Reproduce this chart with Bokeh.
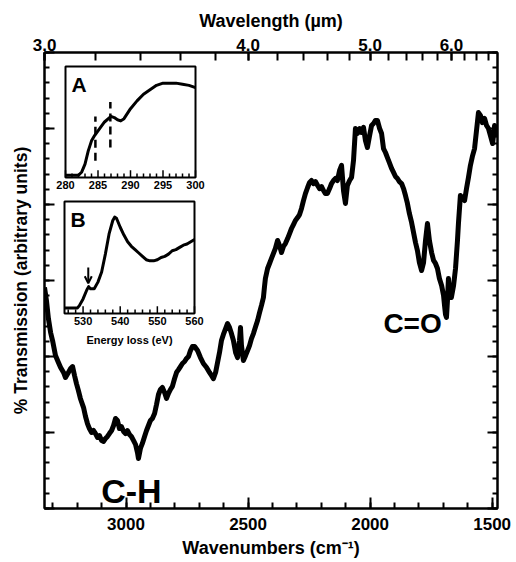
from bokeh.plotting import figure
from bokeh.models import Range1d, LinearAxis, FixedTicker, CustomJSTickFormatter, Arrow, OpenHead
from bokeh.core.properties import value
from bokeh.embed import file_html
from bokeh.resources import INLINE

# ---------------- data ----------------
wavenumber = [3334, 3326, 3318, 3309, 3301, 3289, 3277, 3268, 3256, 3248, 3236, 3227, 3219, 3211, 3203,
              3195, 3187, 3174, 3166, 3158, 3150, 3141, 3133, 3125, 3117, 3109, 3100, 3092, 3084, 3076,
              3068, 3059, 3051, 3043, 3035, 3027, 3019, 3010, 3002, 2994, 2986, 2978, 2969, 2961, 2953,
              2949, 2941, 2933, 2924, 2916, 2908, 2900, 2892, 2883, 2875, 2867, 2859, 2851, 2842, 2834,
              2826, 2818, 2810, 2801, 2793, 2785, 2777, 2769, 2760, 2752, 2744, 2736, 2728, 2719, 2707,
              2695, 2683, 2670, 2658, 2650, 2642, 2633, 2625, 2617, 2609, 2601, 2592, 2584, 2576, 2568,
              2560, 2551, 2543, 2535, 2531, 2527, 2519, 2510, 2502, 2494, 2486, 2478, 2469, 2461, 2453,
              2445, 2437, 2433, 2429, 2420, 2412, 2404, 2396, 2388, 2379, 2371, 2363, 2355, 2347, 2338,
              2330, 2322, 2314, 2306, 2297, 2289, 2281, 2273, 2265, 2256, 2248, 2240, 2232, 2224, 2215,
              2207, 2199, 2191, 2183, 2175, 2166, 2158, 2150, 2142, 2134, 2125, 2117, 2109, 2101, 2093,
              2084, 2076, 2068, 2060, 2052, 2043, 2035, 2027, 2019, 2011, 2002, 1994, 1986, 1978, 1970,
              1961, 1953, 1945, 1937, 1929, 1921, 1912, 1904, 1896, 1888, 1880, 1871, 1863, 1855, 1847,
              1839, 1830, 1822, 1814, 1806, 1798, 1789, 1781, 1773, 1765, 1757, 1748, 1740, 1732, 1724,
              1716, 1707, 1699, 1695, 1691, 1687, 1683, 1679, 1675, 1667, 1658, 1650, 1642, 1638, 1630,
              1621, 1613, 1605, 1597, 1589, 1580, 1572, 1564, 1556, 1548, 1540, 1531, 1523, 1515, 1507,
              1498, 1490, 1482, 1478]
transmission = [14.54, 13.68, 12.5, 11.58, 11.05, 10.07, 9.61, 9.28, 8.95, 8.62, 8.95, 9.21, 9.34, 8.75, 8.22,
                7.76, 7.24, 6.64, 6.05, 5.59, 5.26, 5.0, 5.13, 4.93, 4.67, 4.80, 4.47, 4.41, 4.61, 4.74,
                4.93, 5.13, 5.46, 5.92, 5.79, 5.26, 5.39, 5.07, 4.93, 5.13, 4.87, 4.74, 4.47, 4.21, 3.68,
                3.29, 3.95, 4.28, 4.74, 5.13, 5.46, 5.79, 5.92, 6.25, 6.84, 7.5, 7.83, 7.96, 7.63, 7.24,
                7.57, 7.83, 8.03, 8.55, 8.95, 9.14, 9.34, 9.54, 9.67, 9.87, 10.0, 10.39, 10.66, 10.66, 10.39,
                9.93, 9.54, 9.28, 8.95, 8.75, 8.55, 8.95, 9.61, 10.26, 11.05, 11.45, 11.84, 12.17, 11.91, 11.51,
                11.05, 10.26, 9.93, 11.05, 11.91, 10.72, 9.74, 10.07, 10.39, 10.72, 11.18, 11.51, 11.97, 12.37, 12.89,
                13.36, 13.88, 14.54, 15.13, 15.79, 16.12, 16.45, 16.78, 17.11, 17.63, 17.30, 16.84, 17.24, 17.43, 17.76,
                18.09, 18.42, 18.68, 18.95, 19.14, 19.34, 19.74, 20.26, 20.72, 21.12, 21.45, 21.58, 21.38, 21.51, 21.25,
                21.05, 21.18, 20.92, 20.72, 20.72, 21.05, 21.38, 21.58, 21.71, 21.58, 22.24, 22.57, 20.92, 20.07, 21.25,
                21.58, 21.78, 22.89, 25.0, 24.67, 25.0, 24.74, 25.07, 24.21, 23.75, 24.54, 25.2, 25.33, 25.53, 25.53,
                25.0, 24.67, 23.68, 23.42, 23.09, 22.76, 22.37, 22.11, 21.84, 21.71, 21.51, 21.38, 21.05, 20.59, 20.07,
                19.41, 18.82, 18.16, 17.5, 16.97, 16.18, 15.66, 16.18, 17.63, 18.75, 17.63, 16.84, 16.32, 16.12, 15.79,
                15.13, 14.67, 14.01, 13.36, 12.76, 12.57, 13.68, 15.13, 14.34, 13.88, 14.67, 15.79, 17.63, 18.75, 20.59,
                20.39, 20.26, 21.05, 21.78, 22.57, 23.22, 23.68, 24.87, 26.05, 25.86, 25.39, 25.66, 25.2, 25.0, 24.54,
                24.01, 25.2, 24.87, 24.41]

wn_major = [1500, 2000, 2500, 3000]
wn_minor = list(range(1500, 3301, 100))
wl_labels = [3.0, 4.0, 5.0, 6.0]
wl_minor = [3.0, 3.2, 3.4, 3.6, 3.8, 4.0, 4.2, 4.4, 4.6, 4.8, 5.0, 5.2, 5.4, 5.6, 5.8, 6.0, 6.2, 6.4, 6.6]
y_major = [0, 5, 10, 15, 20, 25, 30]
y_minor = list(range(0, 31))

# inset A (carbon K edge)
a_range = (280, 300)
a_ev = [280, 281, 282, 282.5, 283, 283.5, 284, 284.5, 285, 286, 287, 287.5, 288, 288.5, 289,
        290, 291, 292, 293, 294, 295, 296, 297, 298, 299, 300]
a_int = [0.02, 0.02, 0.02, 0.05, 0.12, 0.24, 0.33, 0.38, 0.42, 0.50, 0.55, 0.54, 0.52, 0.51, 0.53,
         0.62, 0.69, 0.75, 0.79, 0.83, 0.85, 0.85, 0.85, 0.84, 0.83, 0.81]
a_dash_ev = [284.6, 286.9]
a_dash_lo = [0.15, 0.27]
a_dash_hi = [0.55, 0.68]
a_ticks = list(range(280, 301))
a_tick_labels = [280, 285, 290, 295, 300]

# inset B (oxygen K edge)
b_range = (525, 560)
b_ev = [525, 527, 528.5, 529, 530, 531, 531.5, 532, 533, 534, 535, 536, 537, 538, 538.5, 539,
        540, 541, 542, 543, 544, 545, 546, 547, 548, 549, 550, 551, 552, 553, 554, 555, 556,
        557, 558, 559, 560]
b_int = [0.05, 0.05, 0.05, 0.07, 0.13, 0.21, 0.24, 0.22, 0.22, 0.28, 0.37, 0.53, 0.71, 0.83, 0.86, 0.85,
         0.77, 0.70, 0.64, 0.60, 0.57, 0.54, 0.51, 0.48, 0.47, 0.47, 0.48, 0.50, 0.51, 0.53, 0.56, 0.57, 0.59,
         0.61, 0.62, 0.64, 0.66]
b_arrow_ev = 531.4
b_ticks = list(range(526, 561, 2))
b_tick_labels = [530, 540, 550, 560]

FONT = "Liberation Sans"

# ---------------- figure ----------------
p = figure(frame_width=453, frame_height=456,
           x_range=Range1d(3334, 1478), y_range=Range1d(0, 30),
           output_backend="svg", toolbar_location=None,
           min_border_left=44, min_border_right=16, min_border_top=52, min_border_bottom=50)
p.grid.visible = False
p.outline_line_color = "black"
p.outline_line_width = 2
p.background_fill_color = "white"
p.border_fill_color = "white"

p.extra_x_ranges = {"ax": Range1d(276.769, 346.46), "bx": Range1d(519.615, 641.58)}
p.extra_y_ranges = {"ay": Range1d(-2.982, 1.126), "by": Range1d(-1.741, 2.330)}


def style_axis(ax, major_in, minor_in):
    ax.axis_line_color = "black"
    ax.axis_line_width = 2
    ax.major_tick_in = major_in
    ax.major_tick_out = 0
    ax.minor_tick_in = minor_in
    ax.minor_tick_out = 0
    ax.major_tick_line_width = 2
    ax.minor_tick_line_width = 2
    ax.major_label_text_font = FONT
    ax.major_label_text_font_style = "bold"
    ax.major_label_text_font_size = "17px"
    ax.major_label_text_color = "black"
    ax.axis_label_text_font = FONT
    ax.axis_label_text_font_style = "bold"
    ax.axis_label_text_font_size = "18px"
    ax.axis_label_text_color = "black"


xb = p.xaxis[0]
xb.ticker = FixedTicker(ticks=wn_major, minor_ticks=wn_minor)
xb.axis_label = "Wavenumbers (cm\u207b\u00b9)"
style_axis(xb, 11, 6)
xb.major_label_standoff = 9
xb.axis_label_standoff = 5

xt = LinearAxis(ticker=FixedTicker(ticks=[10000 / w for w in wl_labels],
                                   minor_ticks=[10000 / w for w in wl_minor]),
                formatter=CustomJSTickFormatter(code="return (10000 / tick).toFixed(1);"),
                axis_label="Wavelength (\u00b5m)")
style_axis(xt, 8, 8)
xt.major_label_standoff = 2
xt.axis_label_standoff = 5
p.add_layout(xt, "above")

yl = p.yaxis[0]
yl.ticker = FixedTicker(ticks=y_major, minor_ticks=y_minor)
yl.formatter = CustomJSTickFormatter(code="return '';")
yl.axis_label = "% Transmission (arbitrary units)"
style_axis(yl, 10, 5)
yl.axis_label_text_font_size = "17.5px"
yl.major_label_standoff = 0
yl.axis_label_standoff = 14

yr = LinearAxis(ticker=FixedTicker(ticks=y_major, minor_ticks=y_minor),
                formatter=CustomJSTickFormatter(code="return '';"))
style_axis(yr, 10, 5)
yr.major_label_standoff = 0
p.add_layout(yr, "right")

# main spectrum
p.line(wavenumber, transmission, line_color="black", line_width=5, line_join="round")

p.text(x=[2978], y=[1.18], text=["C-H"], text_align="center", text_baseline="middle",
       text_font=value(FONT), text_font_style="bold", text_font_size="34px", text_color="black")
p.text(x=[1826], y=[12.2], text=["C=O"], text_align="center", text_baseline="middle",
       text_font=value(FONT), text_font_style="bold", text_font_size="28px", text_color="black")

# ---------------- insets ----------------
def inset(xr, yr_name, rng, ev, inten, ticks, major_every, labels, name, tick_units):
    p.quad(left=[rng[0]], right=[rng[1]], bottom=[0], top=[1], x_range_name=xr, y_range_name=yr_name,
           fill_color="white", line_color="black", line_width=2)
    lens = [tick_units * (1.8 if t % major_every == 0 else 1.0) for t in ticks]
    p.segment(x0=ticks, x1=ticks, y0=[0] * len(ticks), y1=lens, x_range_name=xr, y_range_name=yr_name,
              line_color="black", line_width=1.5)
    p.line(ev, inten, x_range_name=xr, y_range_name=yr_name, line_color="black", line_width=3,
           line_join="round")
    p.text(x=labels, y=[0] * len(labels), text=[str(t) for t in labels], x_range_name=xr,
           y_range_name=yr_name, text_align="center", text_baseline="top", y_offset=4,
           text_font=value(FONT), text_font_style="bold", text_font_size="11px", text_color="black")
    p.text(x=[rng[0]], y=[1], text=[name], x_range_name=xr, y_range_name=yr_name,
           text_align="left", text_baseline="top", x_offset=6, y_offset=7,
           text_font=value(FONT), text_font_style="bold", text_font_size="21px", text_color="black")


inset("ax", "ay", a_range, a_ev, a_int, a_ticks, 5, a_tick_labels, "A", 0.036)
p.segment(x0=a_dash_ev, x1=a_dash_ev, y0=a_dash_lo, y1=a_dash_hi, x_range_name="ax", y_range_name="ay",
          line_color="black", line_width=2.5, line_dash="8 5")

inset("bx", "by", b_range, b_ev, b_int, b_ticks, 10, b_tick_labels, "B", 0.036)
p.text(x=[(b_range[0] + b_range[1]) / 2], y=[0], text=["Energy loss (eV)"], x_range_name="bx",
       y_range_name="by", text_align="center", text_baseline="top", y_offset=21,
       text_font=value(FONT), text_font_style="bold", text_font_size="11px", text_color="black")
p.add_layout(Arrow(x_start=b_arrow_ev, y_start=0.41, x_end=b_arrow_ev, y_end=0.27,
                   x_range_name="bx", y_range_name="by", line_color="black", line_width=2,
                   end=OpenHead(size=7, line_width=2, line_color="black")))

open("out.html", "w").write(file_html(p, INLINE))
